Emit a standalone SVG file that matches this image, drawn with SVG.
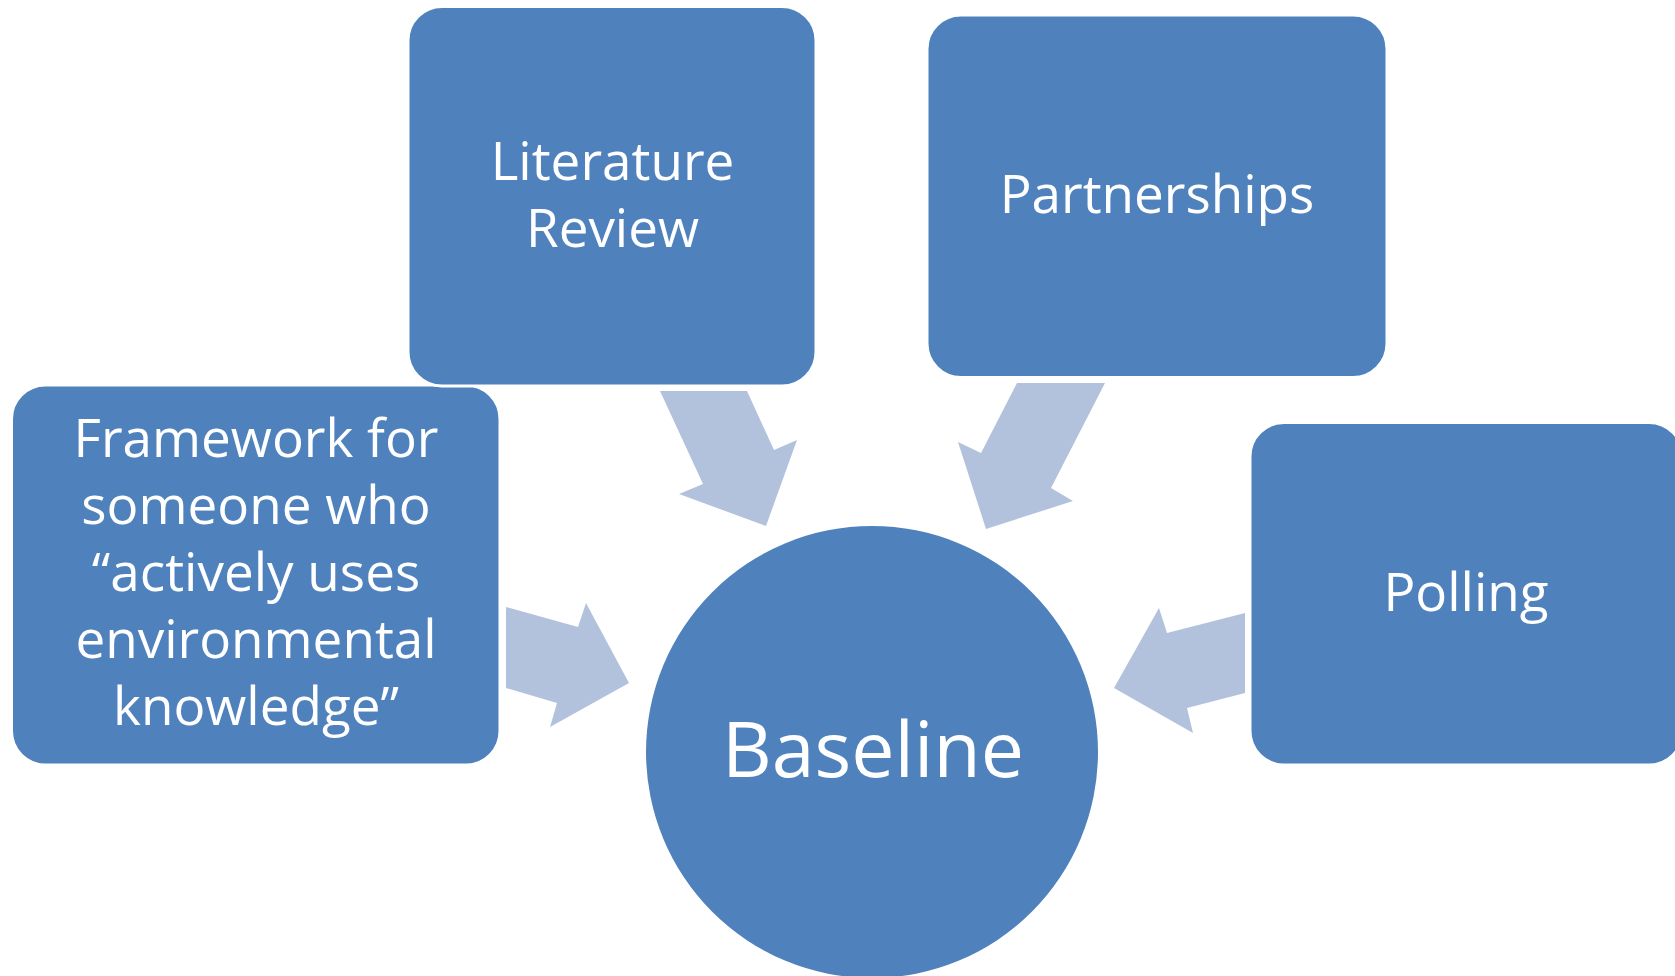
<svg xmlns="http://www.w3.org/2000/svg" width="1675" height="976" viewBox="0 0 1675 976">
  <style>
    .box { fill: #4F81BD; stroke: #FFFFFF; stroke-width: 3; }
    .arrow { fill: #B2C2DD; stroke: none; }
    .lbl { fill: #FFFFFF; font-family: "Open Sans", "Noto Sans", sans-serif; font-size: 53px; text-anchor: middle; }
    .big { font-size: 77px; }
  </style>
  <rect width="1675" height="976" fill="#FFFFFF"/>
  <g id="connectors">
    <polygon class="arrow" points="660,391 747,391 774,450 797,440 766,526 679,494 703,484"/>
    <polygon class="arrow" points="1017,383 1105,383 1051,488 1073,501 986,529 958,442 981,453"/>
    <polygon class="arrow" points="506,607 578,627 586,603 629,683 550,727 557,703 506,688"/>
    <polygon class="arrow" points="1245,613 1167,633 1159,608 1114,688 1193,733 1187,708 1245,693"/>
  </g>
  <g id="node-baseline">
    <circle cx="872" cy="752" r="226" fill="#4F81BD"/>
    <text class="lbl big" x="873" y="777">Baseline</text>
  </g>
  <g id="node-framework">
    <rect class="box" x="11.5" y="385" width="488.5" height="380" rx="34"/>
    <text class="lbl" x="256" y="457">Framework for</text>
    <text class="lbl" x="256" y="524">someone who</text>
    <text class="lbl" x="256" y="591">“actively uses</text>
    <text class="lbl" x="256" y="658">environmental</text>
    <text class="lbl" x="256" y="725">knowledge”</text>
  </g>
  <g id="node-literature">
    <rect class="box" x="408" y="6.5" width="408" height="379.5" rx="34"/>
    <text class="lbl" x="612.5" y="180">Literature</text>
    <text class="lbl" x="612.5" y="246.5">Review</text>
  </g>
  <g id="node-partnerships">
    <rect class="box" x="927" y="15" width="460" height="362.5" rx="34"/>
    <text class="lbl" x="1157" y="213">Partnerships</text>
  </g>
  <g id="node-polling">
    <rect class="box" x="1250" y="422.5" width="433" height="342.5" rx="34"/>
    <text class="lbl" x="1466" y="611">Polling</text>
  </g>
</svg>
